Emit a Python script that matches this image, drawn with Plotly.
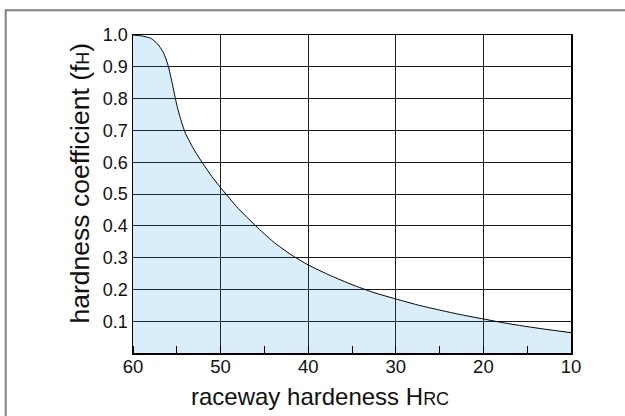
import plotly.graph_objects as go

# Data
hrc = [60, 59, 58, 57.5, 57, 56.5, 56, 55.5, 55, 54.5, 54, 53, 52, 51, 50,
       48, 46, 44, 42, 40, 37.5, 35, 32.5, 30, 27.5, 25, 22.5, 20, 17.5, 15, 12.5, 10]
fh = [1.0, 0.997, 0.99, 0.98, 0.965, 0.943, 0.905, 0.845, 0.78, 0.73, 0.69, 0.638, 0.595, 0.555, 0.52,
      0.455, 0.40, 0.35, 0.31, 0.277, 0.244, 0.215, 0.19, 0.17, 0.151, 0.135, 0.12, 0.107, 0.094, 0.083, 0.073, 0.064]

x_ticks = [60, 50, 40, 30, 20, 10]
x_labels = ["60", "50", "40", "30", "20", "10"]
y_ticks = [0.1, 0.2, 0.3, 0.4, 0.5, 0.6, 0.7, 0.8, 0.9, 1.0]
y_labels = ["0.1", "0.2", "0.3", "0.4", "0.5", "0.6", "0.7", "0.8", "0.9", "1.0"]

x_title = "raceway hardeness H<span style='font-size:18px'>RC</span>"
y_title = "hardness coefficient (f<span style='font-size:18px'>H</span>)"

FONT = "Liberation Sans, Arial, sans-serif"

fig = go.Figure()
fig.add_trace(go.Scatter(
    x=hrc, y=fh, mode="lines",
    line=dict(color="black", width=1, shape="spline", smoothing=0.6),
    fill="tozeroy", fillcolor="rgba(8,135,228,0.15)",
    hoverinfo="skip", showlegend=False,
))

fig.update_layout(
    width=625, height=416,
    margin=dict(l=133, r=54, t=35, b=63),
    paper_bgcolor="white", plot_bgcolor="white",
    font=dict(family=FONT, color="#111"),
    showlegend=False,
)

fig.update_xaxes(
    range=[60, 10], tickvals=x_ticks, ticktext=x_labels,
    showgrid=True, gridcolor="#1a1a1a", gridwidth=1,
    showline=True, linecolor="black", linewidth=1.5, mirror=True,
    ticks="", tickfont=dict(size=18.5, family=FONT, color="#111"),
    ticklabelstandoff=-4,
    minor=dict(dtick=5, tick0=5, ticks="inside", ticklen=7, tickcolor="black", tickwidth=1, showgrid=False),
    zeroline=False, fixedrange=True,
)
fig.update_yaxes(
    range=[0, 1.0], tickvals=y_ticks, ticktext=y_labels,
    showgrid=True, gridcolor="#1a1a1a", gridwidth=1,
    showline=True, linecolor="black", linewidth=1.5, mirror=True,
    ticks="", tickfont=dict(size=18, family=FONT, color="#111"),
    zeroline=False, fixedrange=True,
)

fig.add_annotation(
    text=x_title, xref="paper", yref="paper", x=0.427, y=-0.136,
    xanchor="center", yanchor="middle", showarrow=False,
    font=dict(size=24, family=FONT, color="#111"),
)
fig.add_annotation(
    text=y_title, xref="paper", yref="paper", x=-0.122, y=0.535,
    xanchor="center", yanchor="middle", showarrow=False, textangle=-90,
    font=dict(size=26.5, family=FONT, color="#111"),
)

# outer frame (clipped at right and bottom in the reference)
fig.add_shape(
    type="rect", xref="paper", yref="paper",
    x0=-0.2906, y0=-0.215, x1=1.14, y1=1.0777,
    line=dict(color="#808080", width=2), fillcolor="rgba(0,0,0,0)", layer="below",
)

fig.write_html(
    "out.html",
    config={"displayModeBar": False, "staticPlot": True},
    post_script="document.body.style.margin='0';document.body.style.overflow='hidden';",
)
